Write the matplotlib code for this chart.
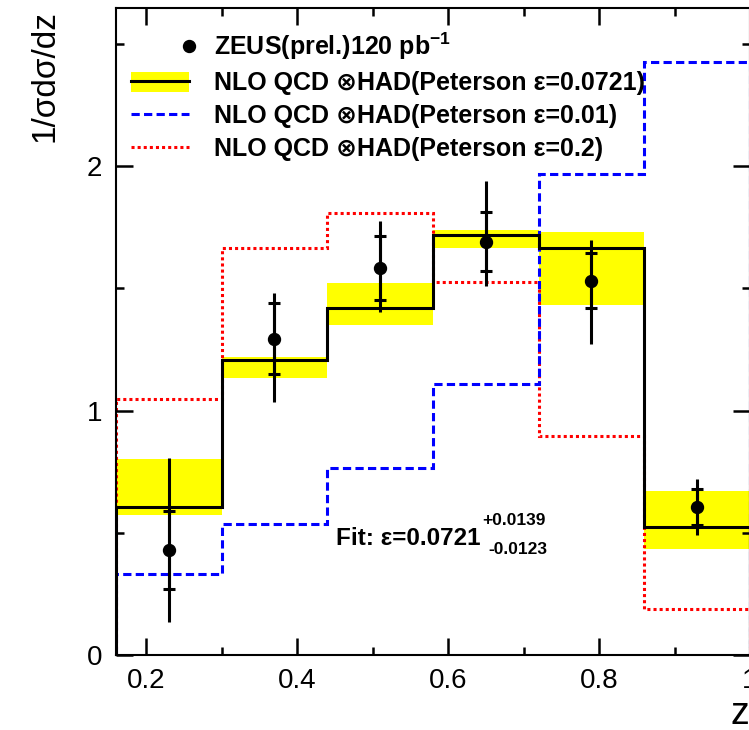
import matplotlib
matplotlib.use('Agg')
import matplotlib.pyplot as plt
import numpy as np
from matplotlib.lines import Line2D
from matplotlib.patches import Patch
from matplotlib.legend_handler import HandlerLine2D, HandlerTuple
from matplotlib.ticker import MultipleLocator

plt.rcParams['font.family'] = ['Liberation Sans', 'DejaVu Sans']
plt.rcParams['mathtext.fontset'] = 'custom'
plt.rcParams['mathtext.rm'] = 'Liberation Sans'
plt.rcParams['mathtext.bf'] = 'Liberation Sans:bold'
plt.rcParams['mathtext.default'] = 'bf'

# z binning
z_edges = [0.16, 0.30, 0.44, 0.58, 0.72, 0.86, 1.00]
z_centers = [0.23, 0.37, 0.51, 0.65, 0.79, 0.93]

# ZEUS data with inner (stat) and outer (total) error limits
zeus = [0.431, 1.293, 1.583, 1.690, 1.531, 0.605]
stat_hi = [0.590, 1.439, 1.714, 1.813, 1.646, 0.680]
stat_lo = [0.270, 1.149, 1.452, 1.572, 1.418, 0.532]
tot_hi = [0.805, 1.480, 1.776, 1.939, 1.698, 0.721]
tot_lo = [0.138, 1.037, 1.405, 1.511, 1.271, 0.492]

# NLO QCD predictions
nlo_0721 = [0.608, 1.207, 1.420, 1.718, 1.664, 0.523]
band_hi = [0.801, 1.219, 1.523, 1.737, 1.729, 0.672]
band_lo = [0.575, 1.132, 1.350, 1.666, 1.433, 0.435]
nlo_001 = [0.331, 0.536, 0.767, 1.109, 1.967, 2.425]
nlo_02 = [1.048, 1.664, 1.809, 1.527, 0.897, 0.190]

labels = ['ZEUS(prel.)120 pb$^{-1}$',
          'NLO QCD \u2297HAD(Peterson \u03b5=0.0721)',
          'NLO QCD \u2297HAD(Peterson \u03b5=0.01)',
          'NLO QCD \u2297HAD(Peterson \u03b5=0.2)']


class EndDot(HandlerLine2D):
    # put the single legend marker at the right end of the handle
    def get_xdata(self, legend, xdescent, ydescent, width, height, fontsize):
        x = -xdescent + width
        return [x - 1, x + 1], [x]


W, H = 749, 730
fig = plt.figure(figsize=(W / 100, H / 100), dpi=100)
ax = fig.add_axes([115.8 / W, 1 - 655.4 / H, (750 - 115.8) / W, (655.4 - 7.5) / H])

lw = 2.2
ax.stairs(band_hi, z_edges, baseline=band_lo, fill=True, color='yellow', lw=0)
ax.stairs(nlo_02, z_edges, baseline=0, color='red', lw=lw, ls=(0, (1, 1)))
ax.stairs(nlo_001, z_edges, baseline=0, color='blue', lw=lw, ls=(0, (2.7, 1.4)))
ax.stairs(nlo_0721, z_edges, baseline=0, color='black', lw=lw)

zc = np.array(z_centers)
zd = np.array(zeus)
ax.errorbar(zc, zd, yerr=[zd - np.array(tot_lo), np.array(tot_hi) - zd],
            fmt='none', ecolor='black', elinewidth=lw, capsize=0)
ax.errorbar(zc, zd, yerr=[zd - np.array(stat_lo), np.array(stat_hi) - zd],
            fmt='o', color='black', ms=8.6, elinewidth=lw, capsize=4.3, capthick=lw)

ax.set_xlim(0.16, 1.0)
ax.set_ylim(0, (655.4 - 7.5) / 244.7)
ax.xaxis.set_major_locator(MultipleLocator(0.2))
ax.xaxis.set_minor_locator(MultipleLocator(0.1))
ax.yaxis.set_major_locator(MultipleLocator(1))
ax.yaxis.set_minor_locator(MultipleLocator(0.5))
ax.tick_params(which='both', direction='in', top=True, right=True, width=1.8, colors='black')
ax.tick_params(which='major', length=12.5, labelsize=20)
ax.tick_params(which='minor', length=6)
ax.tick_params(axis='x', pad=9)
ax.tick_params(axis='y', pad=10)
ax.set_xticks([0.2, 0.4, 0.6, 0.8, 1.0])
ax.set_xticklabels(['0.2', '0.4', '0.6', '0.8', '1'])
ax.set_yticks([0, 1, 2])
ax.set_yticklabels(['0', '1', '2'])
for s in ax.spines.values():
    s.set_linewidth(1.5)

handles = [Line2D([], [], marker='o', color='black', ls='none', ms=8.6),
           (Patch(facecolor='yellow', edgecolor='none'), Line2D([], [], color='black', lw=lw)),
           Line2D([], [], color='blue', lw=lw, ls=(0, (2.7, 1.4))),
           Line2D([], [], color='red', lw=lw, ls=(0, (1, 1)))]
ax.legend(handles, labels, loc='upper left', bbox_to_anchor=(131 / W, 1 - 31 / H),
          bbox_transform=fig.transFigure, frameon=False, borderpad=0, borderaxespad=0,
          handlelength=2.3, handleheight=0.84, handletextpad=1.0, labelspacing=0.36,
          prop={'weight': 'bold', 'size': 18},
          handler_map={handles[0]: EndDot(numpoints=1), tuple: HandlerTuple(ndivide=1)})

# fit result
ax.text(0.4517, 0.451, 'Fit: \u03b5=0.0721', fontsize=17.5, fontweight='bold', va='baseline')
ax.text(0.646, 0.532, '+0.0139', fontsize=12.5, fontweight='bold', va='baseline')
ax.text(0.653, 0.414, '-0.0123', fontsize=12.5, fontweight='bold', va='baseline')

fig.text(45 / W, 1 - 76 / H, '1/\u03c3d\u03c3/dz', fontsize=24, rotation=90, ha='center', va='center')
fig.text(731 / W, 1 - 714 / H, 'z', fontsize=27, ha='left', va='center')

fig.savefig('out.png', dpi=100)
